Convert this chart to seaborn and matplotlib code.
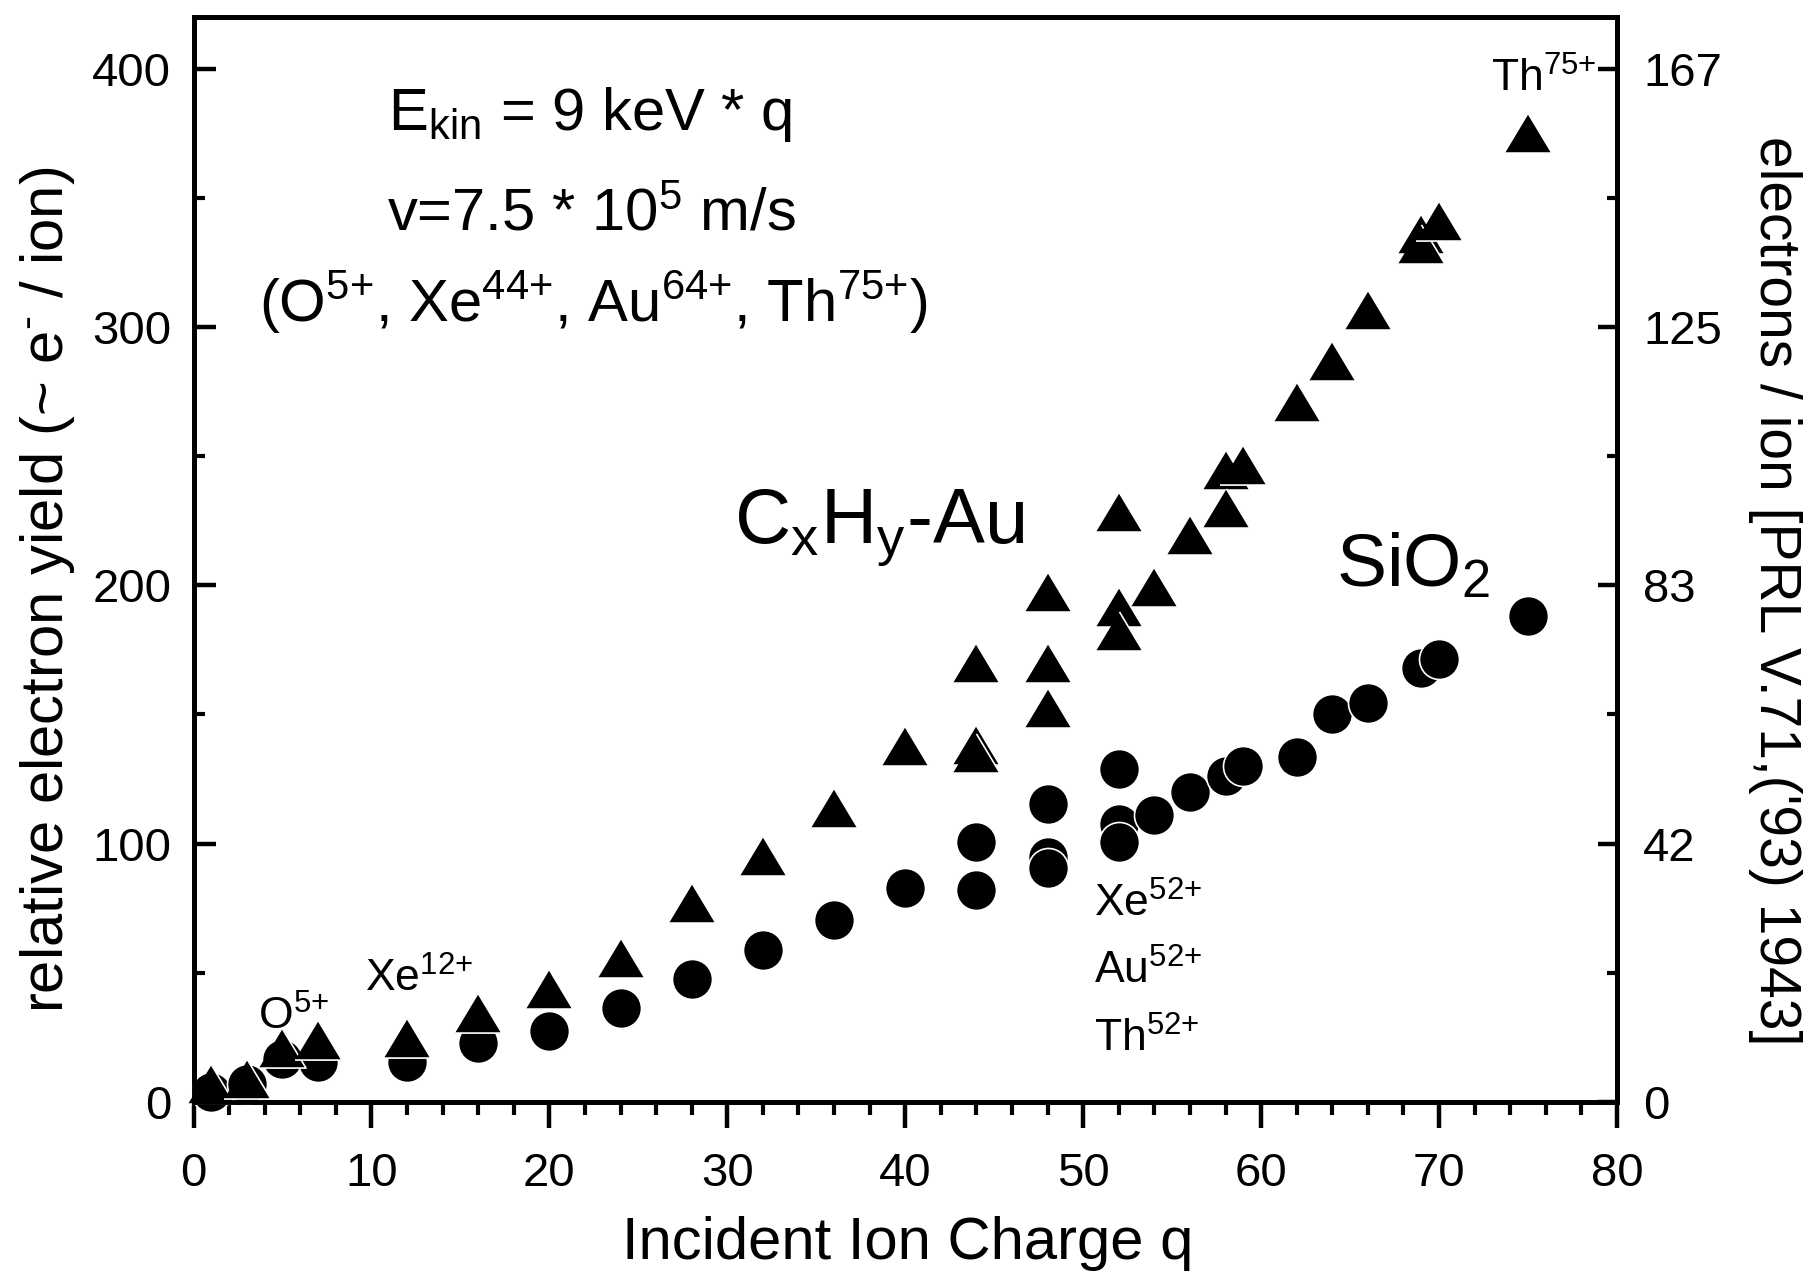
import numpy as np
import pandas as pd
import matplotlib
matplotlib.use("Agg")
import matplotlib.pyplot as plt
from matplotlib.ticker import FixedLocator, MultipleLocator
import seaborn as sns

# Electron yield vs. projectile charge (E_kin = 9 keV * q)
cxhy_q = [1, 3, 5, 7, 12, 16, 20, 24, 28, 32, 36, 40,
          44, 44, 44, 48, 48, 48, 52, 52, 52, 54, 56, 58, 58, 59,
          62, 64, 66, 69, 69, 70, 75]
cxhy_yield = [7, 9, 21, 23.8, 24.7, 34.6, 43.8, 55.9, 77.2, 95.3, 113.8, 137.8,
              170, 138, 135, 197.5, 170, 152.5, 228.5, 191.5, 182.5, 199.5, 219.5, 244.5, 230, 246.5,
              271, 287, 306.5, 336, 332, 341, 375]

sio2_q = [1, 3, 5, 7, 12, 16, 20, 24, 28, 32, 36, 40,
          44, 44, 48, 48, 48, 52, 52, 52, 54, 56, 58, 59,
          62, 64, 66, 69, 70, 75]
sio2_yield = [4, 7, 16.5, 15.5, 15.5, 22.7, 27.6, 36.2, 47.6, 58.9, 70.4, 83,
              100.5, 82, 115.5, 95, 90.5, 129, 107.5, 100.5, 111, 120, 126, 130,
              133.5, 150, 154.5, 168, 171.5, 188]

x_ticks = [0, 10, 20, 30, 40, 50, 60, 70, 80]
y_ticks = [0, 100, 200, 300, 400]
prl_factor = 2.4   # relative yield -> electrons / ion [PRL 71 (1993) 1943]


def ion(sym, charge):
    """Ion symbol with an upright charge-state superscript."""
    return sym + r"$^{\text{" + charge + r"}}$"


sns.set_theme(style="ticks")
plt.rcParams["font.family"] = ["Liberation Sans", "DejaVu Sans"]
plt.rcParams["mathtext.fontset"] = "custom"
plt.rcParams["mathtext.rm"] = "Liberation Sans"
plt.rcParams["mathtext.it"] = "Liberation Sans:italic"
plt.rcParams["mathtext.bf"] = "Liberation Sans:bold"
plt.rcParams["text.color"] = "black"
plt.rcParams["axes.labelcolor"] = "black"
plt.rcParams["xtick.color"] = "black"
plt.rcParams["ytick.color"] = "black"

fig = plt.figure(figsize=(18.17, 12.86), dpi=100)
ax = fig.add_axes([0.1065, 0.1431, 0.7834, 0.8437])

sio2 = pd.DataFrame({"q": sio2_q, "yield": sio2_yield})
cxhy = pd.DataFrame({"q": cxhy_q, "yield": cxhy_yield})

sns.scatterplot(data=sio2, x="q", y="yield", marker="o", s=830, color="black",
                edgecolor="white", linewidth=1.2, clip_on=False, zorder=3,
                legend=False, ax=ax)
tri = [(-1.2, -1.0), (1.2, -1.0), (0.0, 1.0)]
sns.scatterplot(data=cxhy, x="q", y="yield", marker=tri, s=1143, color="black",
                edgecolor="white", linewidth=1.2, clip_on=False, zorder=4,
                legend=False, ax=ax)

ax.set_xlim(0, 80)
ax.set_ylim(0, 420)
ax.xaxis.set_major_locator(FixedLocator(x_ticks))
ax.xaxis.set_minor_locator(MultipleLocator(2))
ax.yaxis.set_major_locator(FixedLocator(y_ticks))
ax.yaxis.set_minor_locator(MultipleLocator(50))
ax.set_xticklabels([str(t) for t in x_ticks])
ax.set_yticklabels([str(t) for t in y_ticks])

ax.tick_params(axis="x", which="major", direction="out", length=19, width=3.2,
               pad=17, labelsize=34, top=False)
ax.tick_params(axis="x", which="minor", direction="out", length=9.5, width=3,
               top=False)
ax.tick_params(axis="y", which="major", direction="in", length=16, width=3.2,
               pad=16, labelsize=34, right=False)
ax.tick_params(axis="y", which="minor", direction="in", length=8, width=3,
               right=False)

ax2 = ax.twinx()
ax2.set_ylim(ax.get_ylim())
ax2.yaxis.set_major_locator(FixedLocator(y_ticks))
ax2.yaxis.set_minor_locator(MultipleLocator(50))
ax2.set_yticklabels([f"{t / prl_factor:.0f}" for t in y_ticks])
ax2.tick_params(axis="y", which="major", direction="in", length=14, width=3.2,
                pad=19, labelsize=34)
ax2.tick_params(axis="y", which="minor", direction="in", length=7, width=3)

for a in (ax, ax2):
    for sp in a.spines.values():
        sp.set_visible(True)
        sp.set_linewidth(3.5)
        sp.set_color("black")

ax.set_xlabel("Incident Ion Charge q", fontsize=43, va="center")
ax.xaxis.set_label_coords(0.502, -0.130)
ax.set_ylabel(r"relative electron yield (~ e$^{\text{-}}$ / ion)", fontsize=43,
              va="center", ha="center")
ax.yaxis.set_label_coords(-0.1026, 0.472)
ax2.set_ylabel("electrons / ion [PRL V.71,('93) 1943]", fontsize=41,
               rotation=270, va="center", ha="center")
ax2.yaxis.set_label_coords(1.111, 0.471)

# Beam conditions
ax.text(22.3, 376.4, r"E$_{\text{kin}}$ = 9 keV * q", fontsize=43,
        ha="center", va="baseline")
ax.text(22.35, 337, r"v=7.5 * 10$^{\text{5}}$ m/s", fontsize=43,
        ha="center", va="baseline")
ax.text(22.45, 302,
        "(" + ion("O", "5+") + ", " + ion("Xe", "44+") + ", "
        + ion("Au", "64+") + ", " + ion("Th", "75+") + ")",
        fontsize=43, ha="center", va="baseline")

# Target labels
ax.text(30.4, 216, r"C$_{\text{x}}$H$_{\text{y}}$-Au", fontsize=56,
        ha="left", va="baseline")
ax.text(64.2, 199.5, r"SiO$_{\text{2}}$", fontsize=54, ha="left", va="baseline")

# Projectile labels
ax.text(72.9, 391, ion("Th", "75+"), fontsize=32, ha="left", va="baseline")
ax.text(3.6, 28, ion("O", "5+"), fontsize=32, ha="left", va="baseline")
ax.text(9.65, 42.5, ion("Xe", "12+"), fontsize=32, ha="left", va="baseline")
ax.text(50.6, 71.7, ion("Xe", "52+"), fontsize=32, ha="left", va="baseline")
ax.text(50.6, 45.7, ion("Au", "52+"), fontsize=32, ha="left", va="baseline")
ax.text(50.6, 19.5, ion("Th", "52+"), fontsize=32, ha="left", va="baseline")

fig.savefig("out.png", dpi=100, facecolor="white")
